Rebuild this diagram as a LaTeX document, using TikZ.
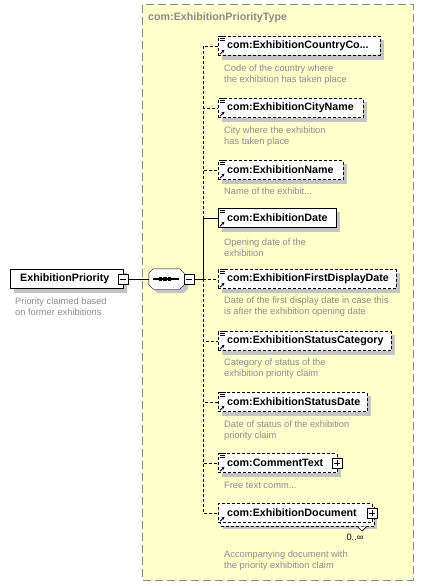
\documentclass[tikz,border=0pt]{standalone}
\usepackage{fontspec}
\setmainfont{Liberation Sans}
\usetikzlibrary{arrows.meta}
\definecolor{bgyellow}{HTML}{FFFFCC}
\definecolor{framegray}{HTML}{8A8A8A}
\definecolor{descgray}{HTML}{8C8C8C}
\definecolor{shadowgray}{HTML}{C4C4C4}
\pgfdeclarelayer{back}
\pgfdeclarelayer{shad}
\pgfsetlayers{back,shad,main}
\newcommand{\elshadow}[1]{\begin{pgfonlayer}{shad}\fill[shadowgray] ([shift={(4,4)}]#1.north west) rectangle ([shift={(4,4)}]#1.south east);\end{pgfonlayer}}
\newcommand{\lineicon}[1]{\draw[line width=0.7pt] ([shift={(2,0)}]#1.north west) -- ++(6,0) ([shift={(2,2)}]#1.north west) -- ++(5,0) ([shift={(2,4)}]#1.north west) -- ++(5,0);}
\newcommand{\refarrow}[1]{\draw[line width=0.8pt,-{Stealth[length=3pt,width=3pt]}] ([shift={(2,-1.5)}]#1.south west) -- ++(4.5,-4.5);}
\newcommand{\chamferpath}[1]{([xshift=4.5pt]#1.north west) -- ([xshift=-4.5pt]#1.north east) -- ([yshift=-4.5pt]#1.north east) -- ([yshift=4.5pt]#1.south east) -- ([xshift=-4.5pt]#1.south east) -- ([xshift=4.5pt]#1.south west) -- ([yshift=4.5pt]#1.south west) -- ([yshift=-4.5pt]#1.north west) -- cycle}
\begin{document}
\begin{tikzpicture}[x=1pt,y=-1pt,line width=0.8pt,
  optl/.style={dash pattern=on 3pt off 2pt},
  elem/.style={draw,fill=white,inner sep=0pt,minimum height=19pt,anchor=west,
    font=\bfseries\fontsize{10.7}{12}\selectfont},
  optelem/.style={elem,dash pattern=on 3pt off 2pt},
  desc/.style={anchor=north west,inner sep=0pt,align=left,text=descgray,
    font=\fontsize{9.3}{11}\selectfont},
  pmbox/.style={draw,solid,fill=white,minimum size=10pt,inner sep=0pt},
  minusbox/.style={pmbox,path picture={\draw[line width=0.7pt] ([xshift=2pt]path picture bounding box.west) -- ([xshift=-2pt]path picture bounding box.east);}},
  plusbox/.style={pmbox,path picture={\draw[line width=0.7pt] ([xshift=2pt]path picture bounding box.west) -- ([xshift=-2pt]path picture bounding box.east) ([yshift=-2pt]path picture bounding box.north) -- ([yshift=2pt]path picture bounding box.south);}},
  seqbox/.style={minimum width=35pt,minimum height=20pt,inner sep=0pt}
]
\useasboundingbox (0,0) rectangle (424,586);
% outer type frame
\begin{pgfonlayer}{back}
\draw[fill=bgyellow,draw=framegray,line width=1pt,dash pattern=on 8pt off 4pt] (142,5) rectangle (413,580);
\end{pgfonlayer}
\node[anchor=west,inner sep=0pt,text=framegray,font=\bfseries\fontsize{10.7}{12}\selectfont] (title) at (148,18) {com:ExhibitionPriorityType};

% main element
\node[elem] (main) at (10,279) {\makebox[113pt][l]{\hspace{10pt}ExhibitionPriority}};
\elshadow{main}
\node[minusbox] (mm) at (main.east) {};
\node[desc] (dmain) at (15,297.5) {Priority claimed based\\on former exhibitions};

% sequence compositor
\node[seqbox] (seqsh) at (170.5,283) {};
\node[seqbox] (seq) at (166.5,279) {};
\fill[shadowgray] \chamferpath{seqsh};
\draw[fill=white] \chamferpath{seq};
\draw[line width=1.3pt] (153,279) -- (179,279);
\foreach \dx in {160.5,165,169.5} \fill (\dx-1.6,279-1.6) rectangle (\dx+1.6,279+1.6);
\node[minusbox,anchor=west] (sm) at (seq.east) {};
\coordinate (sp) at (203,279);
\draw (mm.east) -- (seq.west);
\draw (sm.east) -- (sp);

% children
\node[optelem] (c1) at (218,46) {\makebox[162pt][l]{\hspace{9pt}com:ExhibitionCountryCo...}};
\node[optelem] (c2) at (218,108) {\makebox[145pt][l]{\hspace{9pt}com:ExhibitionCityName}};
\node[optelem] (c3) at (218,170) {\makebox[125pt][l]{\hspace{9pt}com:ExhibitionName}};
\node[elem] (c4) at (218,218) {\makebox[118pt][l]{\hspace{9pt}com:ExhibitionDate}};
\node[optelem] (c5) at (218,279) {\makebox[178pt][l]{\hspace{9pt}com:ExhibitionFirstDisplayDate}};
\node[optelem] (c6) at (218,341) {\makebox[173pt][l]{\hspace{9pt}com:ExhibitionStatusCategory}};
\node[optelem] (c7) at (218,402) {\makebox[149pt][l]{\hspace{9pt}com:ExhibitionStatusDate}};
\node[optelem] (c8) at (218,463) {\makebox[119pt][l]{\hspace{9pt}com:CommentText}};
\node[optelem] (c9) at (218,513) {\makebox[154pt][l]{\hspace{9pt}com:ExhibitionDocument}};

\foreach \c in {c1,c2,c3,c4,c5,c6,c7,c8} {\elshadow{\c}}
\begin{pgfonlayer}{shad}
\fill[shadowgray] ([shift={(5,6)}]c9.north west) rectangle ([shift={(5,6)}]c9.south east);
\draw[optl,fill=white] ([shift={(2,3)}]c9.north west) rectangle ([shift={(2,3)}]c9.south east);
\end{pgfonlayer}
\draw[fill=white,line width=0.7pt] (357.5,526.5) -- (362,531) -- (366.5,526.5);
\node[inner sep=0pt,font=\fontsize{9.3}{11}\selectfont] (card) at (355,537) {0..∞};

\foreach \c in {c1,c2,c3,c4,c5,c6,c7,c8} {\lineicon{\c}}
\foreach \c in {c1,c2,c3,c4,c5,c6,c7,c8,c9} {\refarrow{\c}}
\node[plusbox] (p8) at (c8.east) {};
\node[plusbox] (p9) at (c9.east) {};

% connectors
\draw[optl] (sp) |- (c1.west);
\draw[optl] (sp) |- (c2.west);
\draw[optl] (sp) |- (c3.west);
\draw (sp) |- (c4.west);
\draw[optl] (sp) -- (c5.west);
\draw[optl] (sp) |- (c6.west);
\draw[optl] (sp) |- (c7.west);
\draw[optl] (sp) |- (c8.west);
\draw[optl] (sp) |- (c9.west);

% descriptions
\node[desc] (d1) at (224,64.5) {Code of the country where\\the exhibition has taken place};
\node[desc] (d2) at (224,126.5) {City where the exhibition\\has taken place};
\node[desc] (d3) at (224,187.5) {Name of the exhibit...};
\node[desc] (d4) at (224,238.5) {Opening date of the\\exhibition};
\node[desc] (d5) at (224,296.5) {Date of the first display date in case this\\is after the exhibition opening date};
\node[desc] (d6) at (224,358.5) {Category of status of the\\exhibition priority claim};
\node[desc] (d7) at (224,420.5) {Date of status of the exhibition\\priority claim};
\node[desc] (d8) at (224,481.5) {Free text comm...};
\node[desc] (d9) at (224,550.5) {Accompanying document with\\the priority exhibition claim};
\end{tikzpicture}
\end{document}
